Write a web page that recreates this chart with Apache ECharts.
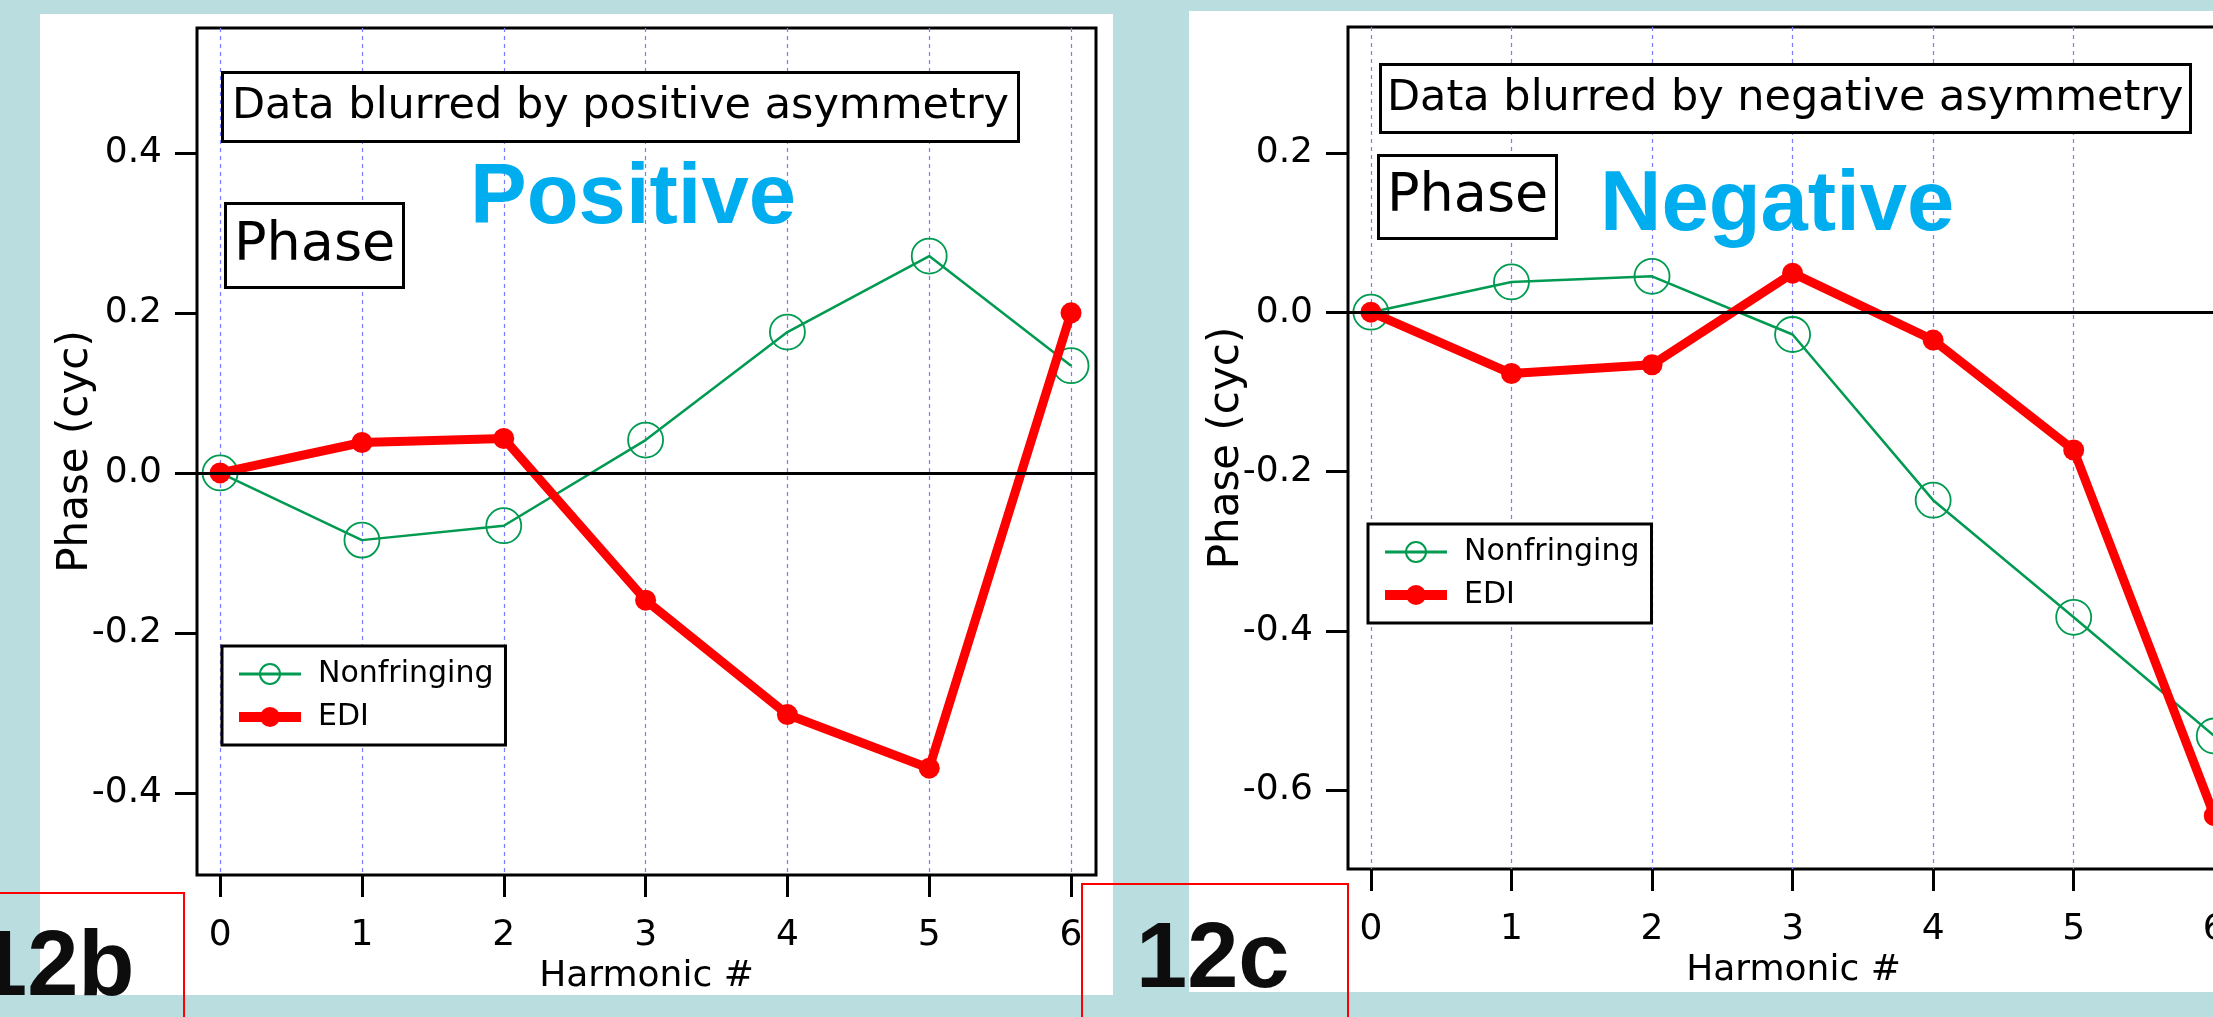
<!DOCTYPE html>
<html>
<head>
<meta charset="utf-8">
<title>Phase vs harmonic</title>
<script src="https://cdn.jsdelivr.net/npm/echarts@6/dist/echarts.min.js"></script>
<style>
  html, body { margin: 0; padding: 0; background: #badde0; }
  #chart { width: 2213px; height: 1017px; }
</style>
</head>
<body>
<div id="chart"></div>
<script>
// data
const harmonics = [0, 1, 2, 3, 4, 5, 6];
const yTicksPos = [-0.4, -0.2, 0, 0.2, 0.4];
const yTicksNeg = [-0.6, -0.4, -0.2, 0, 0.2];

const posNonfringing = [0, -0.084, -0.066, 0.041, 0.176, 0.271, 0.134];
const posEDI = [0, 0.038, 0.043, -0.159, -0.302, -0.369, 0.200];
const negNonfringing = [0, 0.038, 0.045, -0.028, -0.236, -0.383, -0.532];
const negEDI = [0, -0.077, -0.066, 0.049, -0.035, -0.173, -0.632];

const green = '#009a50';
const red = '#ff0000';
const font = 'DejaVu Sans';

function pairs(values) {
  return harmonics.map((h, i) => [h, values[i]]);
}

function makeX(gridIndex) {
  return {
    type: 'value',
    gridIndex: gridIndex,
    min: -0.163,
    max: 6.176,
    axisLine: { show: false, onZero: false },
    axisTick: {
      show: true,
      length: 22,
      customValues: harmonics,
      lineStyle: { color: '#000', width: 3 }
    },
    axisLabel: {
      customValues: harmonics,
      margin: 43,
      color: '#000',
      fontFamily: font,
      fontSize: 36
    },
    splitLine: {
      show: true,
      lineStyle: { color: '#7b7bff', width: 1.2, type: [4, 4] }
    },
    name: 'Harmonic #',
    nameLocation: 'middle',
    nameGap: 76,
    nameTextStyle: { color: '#000', fontFamily: font, fontSize: 36 }
  }
}

function makeY(gridIndex, ticks, min, max) {
  return {
    type: 'value',
    gridIndex: gridIndex,
    min: min,
    max: max,
    axisLine: { show: false, onZero: false },
    axisTick: {
      show: true,
      length: 22,
      customValues: ticks,
      lineStyle: { color: '#000', width: 3 }
    },
    axisLabel: {
      customValues: ticks,
      margin: 35,
      color: '#000',
      fontFamily: font,
      fontSize: 36,
      formatter: (v) => v.toFixed(1)
    },
    splitLine: { show: false },
    name: 'Phase (cyc)',
    nameLocation: 'middle',
    nameGap: 100,
    nameMoveOverlap: false,
    nameTextStyle: { color: '#000', fontFamily: font, fontSize: 42 }
  }
}

function boxTitle(text, left, top, size, lh, pad) {
  return {
    text: text,
    left: left,
    top: top,
    padding: pad,
    borderColor: '#000',
    borderWidth: 3,
    backgroundColor: '#fff',
    textStyle: { fontFamily: font, fontSize: size, fontWeight: 'normal', color: '#000', lineHeight: lh }
  }
}

function bigTitle(text, left, top, size, color) {
  return {
    text: text,
    left: left,
    top: top,
    padding: 0,
    textStyle: { fontFamily: 'Liberation Sans', fontWeight: 'bold', fontSize: size, color: color, lineHeight: size }
  }
}

function makeLegend(left, top) {
  return {
    left: left,
    top: top,
    orient: 'vertical',
    data: [
      { name: 'Nonfringing', lineStyle: { width: 3 } },
      { name: 'EDI', lineStyle: { width: 10 } }
    ],
    backgroundColor: '#fff',
    borderColor: '#000',
    borderWidth: 3,
    padding: [13, 12, 13, 12],
    itemWidth: 62,
    itemHeight: 25,
    itemGap: 13,
    selectedMode: false,
    textStyle: { fontFamily: font, fontSize: 30, color: '#000', padding: [0, 0, 0, 12] }
  }
}

function zeroLine() {
  return {
    silent: true,
    symbol: 'none',
    label: { show: false },
    lineStyle: { color: '#000', width: 3, type: 'solid' },
    data: [{ yAxis: 0 }]
  }
}

function nonfringing(idx, values) {
  return {
    name: 'Nonfringing',
    type: 'line',
    xAxisIndex: idx,
    yAxisIndex: idx,
    data: pairs(values),
    symbol: 'circle',
    symbolSize: 35,
    lineStyle: { color: green, width: 2.5 },
    itemStyle: { color: 'rgba(0,0,0,0)', borderColor: green, borderWidth: 1.8 },
    markLine: zeroLine(),
    z: 3
  }
}

function edi(idx, values) {
  return {
    name: 'EDI',
    type: 'line',
    xAxisIndex: idx,
    yAxisIndex: idx,
    data: pairs(values),
    symbol: 'circle',
    symbolSize: 21,
    lineStyle: { color: red, width: 9 },
    itemStyle: { color: red },
    z: 4
  }
}

const chart = echarts.init(document.getElementById('chart'));
chart.setOption({
  animation: false,
  backgroundColor: '#badde0',
  grid: [
    { left: 197, top: 28, width: 899, height: 847, show: true, borderColor: '#000', borderWidth: 3, outerBoundsMode: 'none' },
    { left: 1348, top: 27, width: 891, height: 842, show: true, borderColor: '#000', borderWidth: 3, outerBoundsMode: 'none' }
  ],
  xAxis: [makeX(0), makeX(1)],
  yAxis: [
    makeY(0, yTicksPos, -0.5025, 0.556),
    makeY(1, yTicksNeg, -0.699, 0.358)
  ],
  title: [
    boxTitle('Data blurred by positive asymmetry', 222, 72, 43, 50, [10, 10, 10, 10]),
    boxTitle('Phase', 225, 203, 54, 63, [11, 9, 11, 9]),
    bigTitle('Positive', 470, 157, 85, '#00aeef'),
    boxTitle('Data blurred by negative asymmetry', 1380, 64, 43, 49, [10, 7, 10, 7]),
    boxTitle('Phase', 1378, 155, 54, 62, [11, 9, 11, 9]),
    bigTitle('Negative', 1600, 164, 85, '#00aeef'),
    bigTitle('12b', -24, 924, 92, '#0d0d0d'),
    bigTitle('12c', 1136, 916, 92, '#0d0d0d')
  ],
  legend: [makeLegend(222, 646), makeLegend(1368, 524)],
  graphic: [
    { type: 'rect', z: -10, shape: { x: 40, y: 14, width: 1073, height: 981 }, style: { fill: '#fff' } },
    { type: 'rect', z: -10, shape: { x: 1189, y: 11, width: 1030, height: 981 }, style: { fill: '#fff' } },
    { type: 'rect', z: 10, shape: { x: -5, y: 893, width: 189, height: 200 }, style: { fill: 'none', stroke: '#ff0000', lineWidth: 2 } },
    { type: 'rect', z: 10, shape: { x: 1082, y: 884, width: 266, height: 200 }, style: { fill: 'none', stroke: '#ff0000', lineWidth: 2 } }
  ],
  series: [
    nonfringing(0, posNonfringing),
    edi(0, posEDI),
    nonfringing(1, negNonfringing),
    edi(1, negEDI)
  ]
});
</script>
</body>
</html>
